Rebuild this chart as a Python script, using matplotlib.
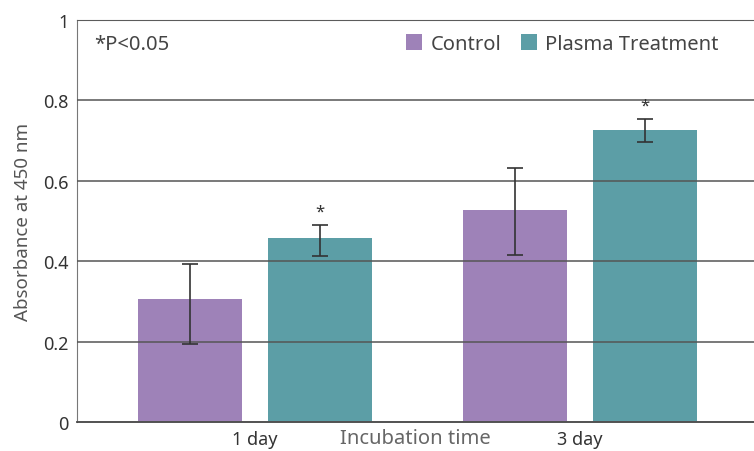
import numpy as np
import matplotlib.pyplot as plt

plt.rcParams['font.family'] = ['Noto Sans', 'DejaVu Sans']

groups = ['1 day', '3 day']
series = ['Control', 'Plasma Treatment']
control = [0.307, 0.527]
control_err_lo = [0.112, 0.112]
control_err_hi = [0.085, 0.105]
plasma = [0.458, 0.726]
plasma_err_lo = [0.045, 0.030]
plasma_err_hi = [0.033, 0.028]
colors = ['#9e82b8', '#5c9ea6']

x = np.arange(len(groups))
w = 0.32

fig = plt.figure(figsize=(7.54, 4.52), dpi=100)
ax = fig.add_axes([77 / 754, 29 / 452, 677 / 754, 402 / 452])

ax.bar(x - 0.2, control, w, color=colors[0], label=series[0], zorder=2)
ax.bar(x + 0.2, plasma, w, color=colors[1], label=series[1], zorder=2)
ax.errorbar(x - 0.2, control, yerr=[control_err_lo, control_err_hi], fmt='none',
            ecolor='#333333', elinewidth=1.2, capsize=6, capthick=1.2, zorder=4)
ax.errorbar(x + 0.2, plasma, yerr=[plasma_err_lo, plasma_err_hi], fmt='none',
            ecolor='#333333', elinewidth=1.2, capsize=6, capthick=1.2, zorder=4)
for xi, v, e in zip(x + 0.2, plasma, plasma_err_hi):
    ax.text(xi, v + e + 0.012, '*', ha='center', va='bottom', fontsize=12, color='#333333')

ax.set_ylim(0, 1)
ax.set_xlim(-0.548, 1.535)
ax.set_yticks([0, 0.2, 0.4, 0.6, 0.8, 1.0])
ax.set_yticklabels(['0', '0.2', '0.4', '0.6', '0.8', '1'])
ax.set_xticks(x)
ax.set_xticklabels(groups)
ax.tick_params(axis='both', length=0, labelsize=13, colors='#333333', pad=6)
ax.yaxis.grid(True, color='#555555', linewidth=1.1, zorder=3)
ax.set_axisbelow(False)

ax.spines['right'].set_visible(False)
ax.spines['top'].set_color('#777777')
ax.spines['left'].set_color('#777777')
ax.spines['bottom'].set_color('#444444')
ax.spines['bottom'].set_linewidth(1.3)

ax.set_ylabel('Absorbance at 450 nm', fontsize=13.5, color='#555555', labelpad=8)
ax.text(0.5, -0.014, 'Incubation time', transform=ax.transAxes, ha='center', va='top',
        fontsize=14.5, color='#666666')
ax.text(0.026, 0.94, '*P<0.05', transform=ax.transAxes, ha='left', va='center',
        fontsize=14.5, color='#444444')
ax.legend(loc='center right', bbox_to_anchor=(0.96, 0.94), ncol=2, frameon=False, fontsize=14.5,
          handlelength=0.8, handleheight=0.8, handletextpad=0.4, columnspacing=1.0,
          labelcolor='#444444', borderaxespad=0)

fig.savefig('out.png', dpi=100)
